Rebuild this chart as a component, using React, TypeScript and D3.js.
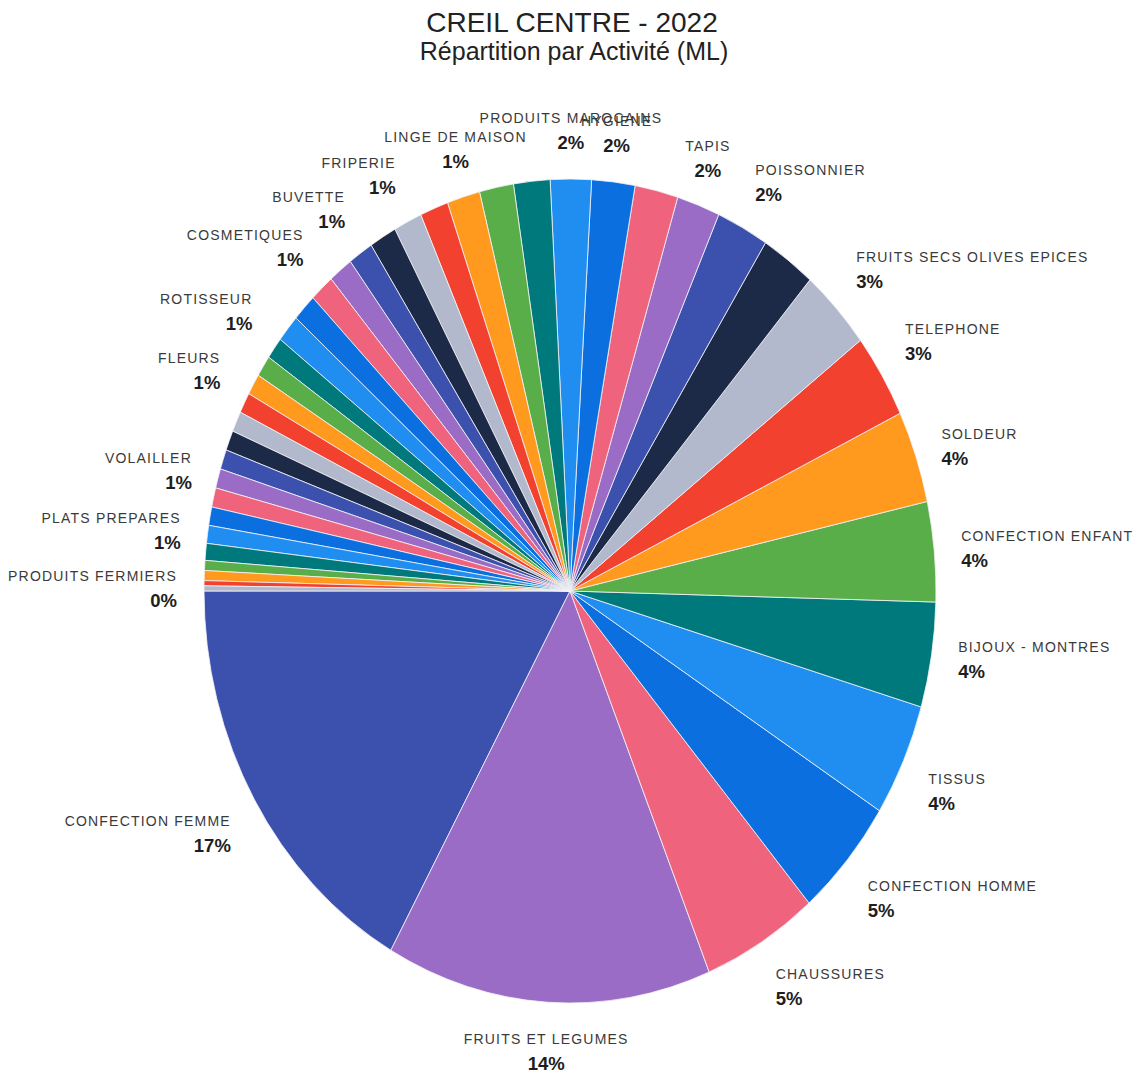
import React from "react";
import * as d3 from "d3";

// Slices in descending order (drawn counter-clockwise from 9 o'clock)
const categories: string[] = [
  "CONFECTION FEMME", "FRUITS ET LEGUMES", "CHAUSSURES", "CONFECTION HOMME",
  "TISSUS", "BIJOUX - MONTRES", "CONFECTION ENFANT", "SOLDEUR", "TELEPHONE",
  "FRUITS SECS OLIVES EPICES", "", "POISSONNIER", "TAPIS", "", "HYGIENE",
  "PRODUITS MAROCAINS", "", "", "LINGE DE MAISON", "", "FRIPERIE", "",
  "BUVETTE", "", "COSMETIQUES", "", "", "ROTISSEUR", "", "", "FLEURS", "",
  "", "", "VOLAILLER", "", "", "PLATS PREPARES", "", "", "", "",
  "PRODUITS FERMIERS",
];

const values: number[] = [
  16.8, 14.3, 5.1, 4.7, 4.4, 4.1, 3.9, 3.6, 3.3, 3.2,
  2.4, 2.3, 1.9, 1.9, 1.9, 1.8, 1.6, 1.5, 1.45, 1.25,
  1.25, 1.2, 1.1, 1.07, 1.07, 1.07, 1.07, 0.85, 0.83, 0.82,
  0.8, 0.8, 0.78, 0.77, 0.76, 0.75, 0.72, 0.7, 0.66, 0.39,
  0.39, 0.2, 0.2,
];

const palette: string[] = [
  "#3b51ad", "#9a6cc6", "#f0637c", "#0b6fe0", "#1f8ef0", "#00797c",
  "#5aae4a", "#ff9a1e", "#f2412f", "#b2b9cc", "#1d2a47",
];

const titleLines: string[] = ["CREIL CENTRE - 2022", "Répartition par Activité (ML)"];

const W = 1142;
const H = 1073;

export default function App() {
  const cx = 570;
  const cy = 591;
  const rx = 366;
  const ry = 412;
  const s = ry / rx;

  const data = categories.map((c, i) => ({ name: c, value: values[i], idx: i }));
  const total = d3.sum(values);

  const pie = d3
    .pie<any>()
    .sort(null)
    .value((d: any) => d.value)
    .startAngle(1.5 * Math.PI)
    .endAngle(-0.5 * Math.PI);
  const arcs = pie(data);

  const arc = d3.arc<any>().innerRadius(0).outerRadius(rx);
  const color = d3.scaleOrdinal<number, string>().domain(d3.range(data.length)).range(palette);

  const gap = 27;
  const boxH = 37;
  const fmt = (v: number) => `${Math.round((v / total) * 100)}%`;

  return (
    <svg
      width={W}
      height={H}
      style={{ position: "absolute", left: 0, top: 0, background: "#fff" }}
      fontFamily="'Liberation Sans', Arial, sans-serif"
    >
      <rect x={0} y={0} width={W} height={H} fill="#fff" />
      <g fill="#222" textAnchor="middle">
        <text x={572} y={32} fontSize={28}>{titleLines[0]}</text>
        <text x={574} y={60} fontSize={25}>{titleLines[1]}</text>
      </g>
      <g transform={`translate(${cx},${cy}) scale(1,${s})`}>
        {arcs.map((a, i) => (
          <path
            key={i}
            d={arc(a) as string}
            fill={color(i)}
            stroke="#f4f4f8"
            strokeWidth={0.8}
            vectorEffect="non-scaling-stroke"
          />
        ))}
      </g>
      <g>
        {arcs.map((a: any, i) => {
          if (!a.data.name) return null;
          const m = (a.startAngle + a.endAngle) / 2;
          const dx = Math.sin(m);
          const dy = -Math.cos(m);
          const px = cx + dx * (rx + gap);
          const py = cy + dy * (rx + gap) * s;
          const anchor = dx > 0.4 ? "start" : dx < -0.4 ? "end" : "middle";
          const top = dy > 0.4 ? py : dy < -0.4 ? py - boxH : py - boxH / 2;
          return (
            <g key={i} textAnchor={anchor}>
              <text x={px} y={top + 11} fontSize={14} letterSpacing={1.2} fill="#3a3a3a">
                {a.data.name}
              </text>
              <text x={px} y={top + 37} fontSize={18.5} fontWeight="bold" fill="#1e1e1e">
                {fmt(a.data.value)}
              </text>
            </g>
          );
        })}
      </g>
    </svg>
  );
}
